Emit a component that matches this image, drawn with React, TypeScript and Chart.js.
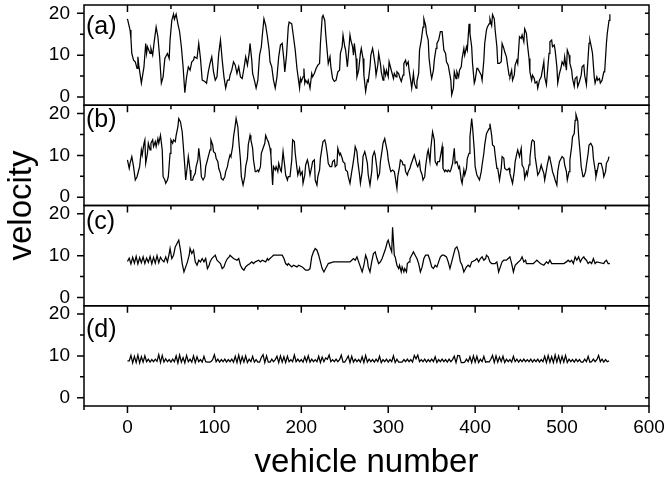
import { useEffect, useRef } from "react";
import { Chart, registerables } from "chart.js";

Chart.register(...registerables);

// Velocity profiles along the platoon, one panel per case.
const panelLabels = ["(a)", "(b)", "(c)", "(d)"];
const yTickLabels = [0, 10, 20];
const yTickMarks = [0, 5, 10, 15, 20];
const xTickLabels = [0, 100, 200, 300, 400, 500, 600];

// [vehicle number, velocity]
const seriesA: [number, number][] = [
  [0, 18.7], [3, 16.0], [4, 14.0], [5, 10.4], [7, 8.8], [9, 8.4], [11, 6.8], [12, 9.6], [13, 7.6], [16, 3.3],
  [19, 7.2], [21, 12.8], [22, 10.4], [23, 12.0], [26, 10.4], [27, 11.6], [29, 10.0], [31, 13.6], [33, 16.7], [35, 14.4],
  [37, 9.6], [39, 3.3], [41, 4.8], [43, 9.2], [44, 9.6], [46, 10.4], [48, 9.2], [49, 13.6], [51, 18.3], [53, 19.8],
  [54, 18.6], [56, 19.8], [58, 17.5], [60, 15.6], [62, 12.0], [64, 7.2], [66, 1.0], [68, 4.8], [70, 7.2], [72, 6.4],
  [74, 8.4], [76, 8.8], [77, 9.6], [80, 9.2], [82, 12.8], [84, 9.2], [86, 4.0], [89, 3.7], [91, 3.3], [93, 6.0],
  [95, 8.0], [97, 9.6], [99, 6.0], [101, 4.0], [103, 4.8], [105, 10.4], [107, 13.6], [109, 8.8], [111, 4.8], [113, 2.1],
  [115, 4.0], [117, 4.0], [118, 5.2], [120, 6.4], [122, 8.4], [124, 7.6], [126, 5.6], [128, 7.2], [130, 4.8], [132, 4.4],
  [134, 6.8], [136, 9.6], [138, 7.6], [140, 10.4], [141, 12.8], [143, 8.8], [144, 5.6], [146, 4.0], [148, 2.1], [150, 4.0],
  [152, 10.0], [154, 12.0], [155, 14.4], [157, 18.7], [159, 17.1], [161, 14.4], [163, 11.2], [164, 8.4], [166, 7.2], [168, 4.0],
  [170, 2.1], [172, 4.8], [174, 9.6], [176, 12.4], [178, 12.8], [180, 8.8], [181, 6.0], [183, 10.0], [185, 16.7], [186, 17.9],
  [189, 17.5], [191, 14.4], [193, 11.2], [195, 6.8], [198, 2.1], [199, 4.4], [200, 3.7], [202, 4.8], [203, 6.8], [204, 3.3],
  [205, 4.0], [207, 3.3], [208, 4.0], [210, 2.1], [212, 5.6], [213, 4.8], [215, 5.6], [217, 6.8], [219, 7.6], [221, 8.0],
  [222, 12.8], [224, 19.1], [225, 19.5], [227, 18.3], [228, 15.2], [230, 10.4], [231, 8.0], [233, 9.6], [234, 7.2], [236, 4.4],
  [238, 3.7], [240, 4.0], [242, 6.0], [244, 6.4], [245, 10.4], [247, 12.0], [248, 14.8], [250, 12.0], [251, 11.2], [253, 7.2],
  [254, 9.6], [256, 14.8], [257, 13.6], [259, 12.0], [260, 10.0], [261, 12.8], [263, 9.2], [264, 4.8], [266, 6.4], [268, 10.4],
  [269, 11.6], [271, 9.2], [272, 5.2], [274, 1.3], [276, 4.0], [277, 3.7], [279, 7.2], [280, 10.0], [282, 11.6], [283, 10.4],
  [285, 7.6], [286, 5.2], [288, 7.6], [289, 10.4], [291, 8.0], [292, 6.0], [294, 4.0], [295, 6.8], [297, 5.2], [298, 6.4],
  [300, 4.8], [301, 8.4], [303, 6.8], [304, 6.0], [306, 4.4], [307, 5.6], [309, 4.8], [310, 6.0], [312, 5.6], [313, 4.8],
  [315, 3.7], [317, 5.2], [318, 8.0], [320, 8.8], [321, 7.6], [323, 8.4], [324, 6.4], [326, 3.7], [327, 2.1], [329, 5.6],
  [330, 3.3], [332, 2.1], [333, 3.7], [335, 5.6], [336, 11.2], [338, 13.6], [340, 16.7], [341, 18.7], [343, 17.1], [344, 15.2],
  [346, 13.6], [347, 9.2], [349, 5.6], [350, 4.4], [352, 6.4], [353, 8.8], [355, 11.6], [356, 12.8], [358, 13.6], [360, 15.6],
  [362, 15.6], [364, 11.2], [366, 10.4], [367, 8.4], [369, 7.6], [370, 6.4], [372, 4.0], [373, 0.5], [375, 2.1], [376, 6.0],
  [378, 4.4], [379, 6.0], [381, 4.8], [382, 6.4], [384, 7.2], [385, 9.2], [387, 11.6], [388, 10.0], [390, 12.0], [391, 11.2],
  [393, 17.5], [394, 15.2], [396, 12.0], [397, 8.0], [399, 3.3], [400, 4.0], [402, 6.8], [403, 6.8], [405, 6.0], [407, 5.2],
  [408, 4.0], [410, 8.8], [411, 12.8], [413, 16.0], [414, 16.7], [416, 17.5], [417, 18.7], [419, 17.1], [420, 19.7], [422, 18.7],
  [423, 16.0], [425, 12.0], [426, 8.0], [428, 8.0], [430, 8.4], [431, 12.8], [433, 11.6], [434, 10.8], [436, 9.6], [437, 8.0],
  [439, 5.2], [440, 4.8], [442, 6.4], [443, 4.0], [445, 5.2], [446, 7.6], [448, 8.8], [449, 8.0], [451, 14.4], [453, 14.0],
  [454, 14.8], [456, 13.2], [457, 16.3], [459, 15.2], [460, 12.8], [462, 9.2], [463, 6.0], [465, 4.0], [466, 5.2], [468, 4.4],
  [469, 3.3], [471, 3.7], [472, 2.1], [474, 4.0], [476, 4.8], [477, 6.0], [479, 8.4], [480, 4.8], [482, 2.9], [483, 5.6],
  [485, 10.4], [486, 13.2], [488, 13.6], [489, 12.0], [491, 12.4], [492, 11.2], [494, 7.2], [495, 3.3], [497, 5.6], [499, 7.2],
  [500, 8.4], [502, 7.6], [503, 9.6], [505, 6.4], [506, 11.2], [508, 10.0], [509, 8.0], [511, 6.4], [512, 4.4], [514, 2.5],
  [515, 4.4], [517, 4.8], [518, 2.5], [520, 3.7], [522, 5.2], [523, 7.2], [525, 7.6], [526, 5.2], [528, 2.9], [529, 6.4],
  [531, 12.8], [532, 13.6], [534, 11.6], [535, 10.4], [537, 4.8], [538, 3.3], [540, 4.8], [541, 4.0], [543, 4.4], [544, 3.3],
  [546, 4.0], [548, 6.0], [549, 6.0], [551, 12.8], [552, 15.2], [554, 18.3], [555, 19.8],
];

const seriesB: [number, number][] = [
  [0, 8.9], [2, 6.9], [3, 8.1], [5, 9.7], [7, 7.3], [9, 4.1], [11, 4.9], [13, 6.5], [14, 7.3], [16, 11.3],
  [17, 10.1], [19, 12.9], [20, 13.7], [21, 8.1], [23, 10.5], [24, 12.9], [26, 11.3], [27, 12.9], [29, 13.7], [30, 12.1],
  [32, 13.3], [33, 12.1], [35, 14.0], [36, 12.9], [38, 14.8], [40, 11.3], [41, 4.9], [43, 4.1], [44, 3.3], [46, 4.1],
  [47, 4.9], [49, 10.5], [50, 13.7], [52, 12.9], [53, 13.7], [55, 13.3], [56, 14.8], [58, 16.8], [59, 18.8], [61, 18.0],
  [63, 15.6], [64, 12.9], [66, 7.3], [67, 4.1], [69, 7.7], [70, 9.7], [72, 6.5], [73, 4.1], [75, 4.1], [76, 4.9],
  [78, 5.7], [79, 7.3], [81, 8.9], [82, 11.7], [84, 8.1], [85, 4.9], [87, 4.1], [89, 4.9], [90, 7.3], [92, 8.9],
  [93, 9.7], [95, 11.3], [96, 13.7], [98, 12.5], [99, 10.9], [101, 10.5], [102, 9.3], [104, 8.5], [105, 6.9], [107, 5.7],
  [108, 4.5], [110, 4.1], [112, 4.9], [113, 6.1], [115, 7.3], [116, 8.5], [118, 10.1], [119, 9.7], [121, 12.1], [122, 14.4],
  [124, 17.2], [125, 18.8], [127, 16.8], [128, 13.7], [130, 8.9], [131, 4.9], [133, 2.9], [135, 4.9], [136, 7.3], [138, 9.3],
  [139, 12.5], [141, 14.8], [142, 13.7], [144, 11.7], [145, 8.9], [147, 6.1], [148, 6.1], [150, 6.5], [151, 6.1], [153, 7.3],
  [154, 10.5], [156, 11.7], [158, 12.9], [159, 14.8], [161, 13.7], [162, 13.3], [164, 11.7], [165, 10.1], [167, 2.9], [168, 7.3],
  [170, 6.5], [171, 7.3], [173, 6.1], [174, 8.1], [176, 6.5], [177, 6.1], [179, 10.9], [181, 7.3], [182, 5.3], [184, 4.1],
  [185, 4.9], [187, 4.9], [189, 8.9], [190, 13.7], [192, 13.3], [193, 10.5], [195, 6.9], [196, 5.3], [198, 6.9], [199, 5.3],
  [201, 6.1], [202, 3.3], [204, 5.3], [205, 7.7], [207, 8.9], [208, 8.1], [210, 5.3], [212, 7.3], [213, 8.5], [215, 8.9],
  [216, 4.1], [218, 2.9], [219, 4.9], [221, 6.5], [222, 9.3], [224, 12.1], [225, 13.3], [227, 13.7], [228, 12.9], [230, 10.1],
  [231, 8.1], [233, 7.3], [235, 7.3], [236, 8.5], [238, 8.9], [239, 7.3], [241, 7.7], [242, 11.7], [244, 10.1], [245, 10.5],
  [247, 9.3], [248, 8.5], [250, 8.1], [251, 6.5], [253, 6.1], [254, 4.9], [256, 3.3], [258, 6.1], [259, 7.3], [261, 10.1],
  [262, 12.1], [264, 10.9], [265, 8.5], [267, 5.3], [268, 3.3], [270, 6.1], [271, 9.7], [273, 10.9], [274, 10.1], [276, 8.1],
  [277, 5.3], [279, 2.9], [281, 6.1], [282, 9.7], [284, 10.9], [285, 10.1], [287, 6.9], [288, 4.5], [290, 5.7], [291, 8.5],
  [293, 11.3], [294, 12.9], [296, 14.0], [297, 12.9], [299, 10.9], [300, 8.9], [302, 6.9], [303, 6.1], [305, 6.5], [307, 6.1],
  [308, 4.9], [310, 2.1], [311, 4.9], [313, 7.3], [314, 8.9], [316, 8.5], [317, 7.7], [319, 7.7], [320, 6.1], [322, 5.3],
  [323, 6.1], [325, 6.9], [326, 7.7], [328, 8.9], [330, 10.1], [331, 9.3], [333, 7.7], [334, 7.3], [336, 8.5], [337, 6.5],
  [339, 5.3], [340, 4.1], [342, 4.9], [343, 7.3], [345, 10.5], [346, 11.3], [348, 8.5], [349, 11.7], [351, 15.6], [353, 13.7],
  [354, 8.5], [356, 7.7], [357, 8.5], [359, 8.5], [360, 9.7], [362, 12.1], [363, 6.9], [365, 6.1], [366, 6.5], [368, 6.1],
  [369, 6.5], [371, 6.1], [372, 6.5], [374, 8.1], [376, 11.7], [377, 8.1], [379, 8.5], [381, 6.9], [382, 7.3], [384, 4.1],
  [385, 3.3], [387, 6.5], [388, 5.3], [390, 6.9], [391, 9.3], [393, 10.5], [394, 14.4], [396, 18.8], [397, 16.8], [399, 11.3],
  [400, 7.3], [402, 5.3], [403, 4.9], [405, 4.1], [407, 6.1], [408, 7.7], [410, 10.5], [411, 12.5], [413, 15.2], [414, 15.6],
  [416, 16.4], [417, 17.6], [419, 14.8], [420, 12.5], [422, 12.1], [423, 10.1], [425, 6.9], [426, 6.9], [428, 4.1], [430, 6.9],
  [431, 9.7], [433, 9.3], [434, 6.9], [436, 6.5], [437, 6.5], [439, 6.9], [440, 5.7], [442, 4.1], [443, 3.3], [445, 6.1],
  [446, 8.5], [448, 10.5], [449, 11.3], [451, 9.7], [453, 11.7], [454, 7.7], [456, 6.9], [457, 4.5], [459, 6.1], [460, 5.3],
  [462, 7.7], [463, 9.3], [465, 13.3], [466, 13.7], [468, 13.3], [469, 9.7], [471, 6.9], [472, 5.3], [474, 6.1], [476, 7.7],
  [477, 6.9], [479, 5.7], [480, 4.1], [482, 6.5], [483, 7.7], [485, 9.7], [486, 9.3], [488, 7.3], [489, 6.1], [491, 4.9],
  [492, 4.1], [494, 2.9], [495, 6.1], [497, 8.5], [499, 9.3], [500, 9.7], [502, 9.3], [503, 7.7], [505, 6.1], [506, 4.1],
  [508, 6.1], [509, 8.9], [511, 12.1], [512, 14.4], [514, 15.2], [515, 18.4], [516, 19.8], [518, 18.4], [519, 14.8], [521, 10.1],
  [522, 7.3], [524, 4.9], [525, 4.9], [527, 6.1], [528, 7.7], [530, 10.5], [531, 12.5], [533, 12.9], [535, 12.1], [536, 9.3],
  [538, 6.5], [539, 4.9], [541, 6.9], [542, 8.1], [544, 8.1], [545, 8.1], [547, 6.5], [548, 4.9], [550, 6.1], [551, 8.1],
  [553, 8.9], [554, 9.7],
];

const seriesC: [number, number][] = [
  [0, 8.6], [2, 9.4], [4, 8.0], [6, 9.6], [8, 8.2], [10, 9.8], [12, 8.0], [14, 9.5], [16, 8.3], [18, 9.7],
  [20, 8.1], [22, 9.4], [24, 8.4], [26, 9.8], [28, 8.0], [30, 9.6], [32, 8.2], [34, 10.0], [36, 8.3], [38, 9.6],
  [40, 8.9], [42, 8.5], [44, 9.7], [46, 8.5], [48, 10.5], [49, 11.7], [51, 9.3], [53, 10.1], [55, 12.1], [57, 12.9],
  [59, 13.7], [61, 11.3], [63, 8.1], [65, 6.1], [67, 7.3], [69, 8.5], [71, 10.1], [72, 11.7], [74, 10.5], [76, 11.3],
  [78, 8.5], [80, 7.7], [82, 8.9], [84, 8.5], [86, 9.3], [88, 8.5], [90, 9.3], [92, 6.9], [94, 7.7], [95, 8.5],
  [97, 9.3], [99, 9.7], [101, 10.1], [103, 8.9], [105, 8.5], [107, 8.1], [109, 6.9], [111, 7.3], [113, 8.5], [115, 9.3],
  [117, 9.7], [118, 10.1], [122, 9.3], [126, 8.9], [128, 9.3], [130, 7.7], [132, 6.9], [134, 6.5], [136, 7.3], [138, 7.7],
  [141, 8.1], [143, 8.5], [145, 8.1], [147, 8.5], [151, 8.9], [153, 8.5], [155, 8.9], [159, 8.5], [161, 9.3], [162, 8.9],
  [164, 9.3], [166, 9.7], [168, 10.1], [178, 10.1], [180, 9.3], [182, 8.1], [184, 7.7], [185, 8.1], [187, 7.7], [189, 7.3],
  [191, 7.7], [195, 7.3], [197, 7.7], [201, 7.3], [203, 6.9], [205, 6.5], [208, 6.5], [210, 6.9], [212, 9.7], [214, 10.9],
  [216, 11.7], [218, 11.3], [220, 10.1], [222, 8.5], [224, 6.9], [226, 6.1], [228, 6.9], [230, 7.7], [231, 8.1], [237, 8.5],
  [256, 8.5], [258, 8.9], [260, 9.3], [262, 8.9], [264, 9.7], [266, 8.5], [268, 7.3], [270, 6.1], [272, 7.7], [274, 10.1],
  [276, 8.9], [277, 7.3], [279, 6.1], [281, 8.5], [283, 10.5], [285, 10.9], [287, 9.3], [289, 8.1], [291, 8.5], [293, 9.3],
  [295, 10.5], [297, 11.7], [299, 13.3], [300, 13.7], [302, 12.1], [304, 10.9], [305, 16.8], [307, 10.1], [308, 9.7], [310, 7.7],
  [312, 6.9], [313, 7.7], [315, 6.1], [316, 7.3], [318, 6.1], [319, 6.9], [321, 6.1], [322, 8.1], [324, 8.5], [325, 9.3],
  [327, 10.1], [329, 10.9], [331, 10.1], [333, 9.3], [335, 8.1], [337, 6.1], [339, 7.3], [341, 9.3], [343, 10.1], [346, 10.1],
  [348, 8.9], [350, 7.3], [352, 6.9], [354, 7.7], [356, 7.3], [358, 8.5], [360, 9.7], [362, 10.1], [364, 10.1], [367, 9.7],
  [369, 8.5], [371, 6.9], [373, 8.5], [375, 10.1], [377, 11.7], [379, 12.1], [381, 10.9], [383, 8.5], [385, 7.7], [387, 6.1],
  [389, 6.9], [390, 7.3], [392, 7.7], [394, 7.3], [396, 8.5], [400, 8.9], [402, 9.3], [404, 8.5], [406, 9.3], [408, 9.7],
  [410, 8.9], [412, 9.3], [413, 10.1], [415, 9.7], [417, 8.5], [419, 8.1], [423, 8.1], [425, 8.5], [427, 6.1], [429, 7.3],
  [431, 8.5], [433, 8.9], [436, 8.9], [438, 9.3], [440, 9.7], [442, 8.1], [444, 6.1], [446, 7.7], [448, 8.1], [452, 8.9],
  [454, 9.7], [456, 8.5], [458, 8.9], [459, 8.1], [467, 8.1], [469, 8.5], [471, 8.9], [473, 8.5], [475, 8.1], [479, 7.7],
  [482, 8.5], [484, 8.1], [486, 8.9], [488, 8.1], [502, 8.1], [505, 8.5], [507, 8.9], [509, 8.5], [511, 8.9], [513, 8.1],
  [515, 9.7], [517, 8.9], [519, 9.7], [521, 8.5], [523, 9.3], [525, 9.7], [526, 9.3], [528, 8.9], [530, 8.1], [532, 8.5],
  [534, 8.1], [536, 9.3], [538, 8.1], [540, 8.5], [548, 8.1], [549, 8.5], [551, 8.9], [553, 8.1], [555, 8.1],
];

// Case (d): one reading every second vehicle, starting at vehicle 0.
const vehicleStepD = 2;
const velocityD = [
  8.8, 8.8, 10.1, 8.3, 9.9, 8.4, 10.2, 8.3, 9.8, 8.5, 10.0,
  8.6, 9.2, 8.5, 9.1, 8.6, 9.2, 8.7, 10.3, 8.4, 10.1,
  8.5, 9.3, 8.6, 9.1, 8.5, 9.2, 8.6, 10.0, 8.3, 10.2,
  8.5, 9.6, 8.3, 10.1, 8.6, 9.2, 8.5, 10.0, 8.4, 9.8,
  8.6, 9.1, 8.5, 9.9, 8.6, 8.5, 8.5, 8.6, 9.1, 10.3,
  8.6, 9.2, 8.5, 9.1, 8.6, 9.2, 8.5, 9.1, 8.6, 9.2,
  8.5, 9.9, 8.4, 10.2, 8.3, 9.8, 8.5, 10.0, 8.4, 9.2,
  8.6, 9.9, 8.5, 9.1, 8.5, 8.5, 9.6, 10.3, 8.4, 10.0,
  8.5, 8.5, 9.2, 8.6, 9.1, 9.9, 8.4, 10.0, 8.5, 9.8,
  8.4, 9.9, 8.6, 9.1, 8.6, 10.2, 8.6, 9.2, 8.6, 9.1,
  8.5, 9.8, 8.6, 10.0, 8.5, 9.2, 8.6, 9.1, 8.6, 9.9,
  8.4, 9.7, 8.6, 9.5, 9.2, 10.2, 8.6, 9.1, 8.6, 9.2,
  8.6, 9.1, 10.2, 8.5, 8.5, 9.2, 10.0, 8.4, 9.9, 8.5,
  9.2, 8.6, 9.1, 8.5, 9.8, 8.4, 10.1, 8.5, 9.2, 8.6,
  9.1, 8.5, 9.2, 8.6, 9.9, 8.4, 9.1, 8.6, 9.2, 8.5,
  9.1, 8.6, 10.0, 8.4, 9.2, 8.5, 8.5, 8.5, 9.1, 8.6,
  9.2, 8.6, 9.1, 8.5, 10.1, 9.3, 10.2, 8.6, 9.1, 8.6,
  9.2, 8.5, 9.1, 8.6, 9.2, 8.6, 9.8, 8.4, 9.1, 8.6,
  9.2, 8.6, 9.1, 8.5, 9.2, 8.6, 9.1, 9.9, 8.4, 10.1,
  10.0, 8.4, 8.4, 8.5, 9.2, 8.6, 9.8, 8.4, 10.0, 8.5,
  9.9, 8.4, 9.2, 8.6, 9.9, 8.5, 8.6, 8.5, 9.2, 10.1,
  8.4, 10.0, 8.5, 9.7, 8.6, 9.9, 8.4, 9.2, 8.6, 9.1,
  8.5, 9.9, 8.6, 9.2, 8.5, 9.1, 8.6, 9.2, 8.6, 9.1,
  8.6, 9.2, 8.5, 9.1, 8.6, 9.2, 8.5, 9.1, 8.6, 9.9,
  8.4, 10.1, 8.5, 9.8, 8.4, 10.2, 8.5, 10.0, 8.4, 9.9,
  8.5, 10.1, 8.4, 9.2, 8.6, 9.1, 8.5, 9.2, 8.6, 9.1,
  8.5, 8.5, 9.2, 8.6, 9.9, 8.5, 8.6, 9.2, 8.6, 9.1,
  10.1, 8.6, 9.2, 8.5, 9.1, 8.6, 8.8,
];

const FONT = "'Liberation Sans', Arial, Helvetica, sans-serif";

const toPoints = (pairs: [number, number][]) => pairs.map(([x, y]) => ({ x, y }));

// tagOffset: distance in px from the panel's top edge to the centre of its tag
const panels = [
  { id: "yA", weight: 4, tagOffset: 22, points: toPoints(seriesA) },
  { id: "yB", weight: 3, tagOffset: 15, points: toPoints(seriesB) },
  { id: "yC", weight: 2, tagOffset: 17, points: toPoints(seriesC) },
  { id: "yD", weight: 1, tagOffset: 24, points: velocityD.map((y, i) => ({ x: i * vehicleStepD, y })) },
];

// Frames, Origin-style tick marks, panel tags and the shared y title.
const panelFrames = {
  id: "panelFrames",
  afterDraw(chart: any) {
    const { ctx, chartArea: area, scales } = chart;
    const xs = scales.x;
    ctx.save();
    ctx.strokeStyle = "#000";
    ctx.fillStyle = "#000";
    ctx.lineWidth = 1.5;
    panels.forEach((p, k) => {
      const s = scales[p.id];
      ctx.strokeRect(area.left, s.top, area.right - area.left, s.bottom - s.top);
      ctx.beginPath();
      for (const v of yTickMarks) {
        const py = s.getPixelForValue(v);
        const major = yTickLabels.includes(v);
        ctx.moveTo(area.left - (major ? 7 : 4), py);
        ctx.lineTo(area.left, py);
        ctx.moveTo(area.right, py);
        ctx.lineTo(area.right - 4, py);
      }
      for (let v = xs.min + 50; v < xs.max; v += 50) {
        const px = xs.getPixelForValue(v);
        const major = xTickLabels.includes(v);
        ctx.moveTo(px, s.top);
        ctx.lineTo(px, s.top + (major ? 7 : 4));
      }
      ctx.stroke();
      ctx.font = `25px ${FONT}`;
      ctx.textAlign = "left";
      ctx.textBaseline = "middle";
      ctx.fillText(panelLabels[k], area.left + 2, s.top + p.tagOffset);
    });
    ctx.beginPath();
    for (let v = xs.min; v <= xs.max; v += 50) {
      const px = xs.getPixelForValue(v);
      const major = xTickLabels.includes(v);
      ctx.moveTo(px, area.bottom);
      ctx.lineTo(px, area.bottom + (major ? 7 : 4));
    }
    ctx.stroke();
    ctx.translate(22, (area.top + area.bottom) / 2);
    ctx.rotate(-Math.PI / 2);
    ctx.font = `33px ${FONT}`;
    ctx.textAlign = "center";
    ctx.textBaseline = "middle";
    ctx.fillText("velocity", 0, 0);
    ctx.restore();
  },
};

export default function App() {
  const canvasRef = useRef<HTMLCanvasElement | null>(null);

  useEffect(() => {
    const canvas = canvasRef.current;
    if (!canvas) return;
    const scales: any = {
      x: {
        type: "linear",
        position: "bottom",
        min: -50,
        max: 600,
        afterFit: (s: any) => {
          s.height = 80;
          s.paddingLeft = 0;
          s.paddingRight = 0;
        },
        grid: { display: false, drawTicks: false },
        border: { display: false },
        ticks: {
          stepSize: 100,
          includeBounds: false,
          autoSkip: false,
          maxRotation: 0,
          padding: 10,
          color: "#000",
          font: { family: FONT, size: 19 },
        },
        title: {
          display: true,
          text: "vehicle number",
          color: "#000",
          font: { family: FONT, size: 33 },
          padding: { top: 0, bottom: 3 },
        },
      },
    };
    panels.forEach((p) => {
      scales[p.id] = {
        type: "linear",
        position: "left",
        stack: "panels",
        stackWeight: 1,
        weight: p.weight,
        min: -2,
        max: 22,
        afterFit: (s: any) => {
          s.width = 84;
          s.paddingTop = 0;
          s.paddingBottom = 0;
        },
        grid: { display: false, drawTicks: false },
        border: { display: false },
        ticks: {
          stepSize: 10,
          includeBounds: false,
          padding: 14,
          color: "#000",
          font: { family: FONT, size: 19 },
        },
      };
    });

    const chart = new Chart(canvas, {
      type: "line",
      data: {
        datasets: panels.map((p) => ({
          data: p.points,
          yAxisID: p.id,
          xAxisID: "x",
          borderColor: "#000",
          borderWidth: 1.25,
          pointRadius: 0,
          tension: 0,
          fill: false,
        })),
      },
      options: {
        responsive: false,
        animation: false,
        devicePixelRatio: 1,
        layout: { padding: { left: 0, right: 17, top: 5, bottom: 0 } },
        plugins: { legend: { display: false }, tooltip: { enabled: false } },
        scales,
      },
      plugins: [panelFrames],
    });
    return () => chart.destroy();
  }, []);

  return (
    <div style={{ position: "absolute", left: 0, top: 0, width: 666, height: 486, background: "#fff" }}>
      <canvas ref={canvasRef} width={666} height={486} style={{ display: "block" }} />
    </div>
  );
}
